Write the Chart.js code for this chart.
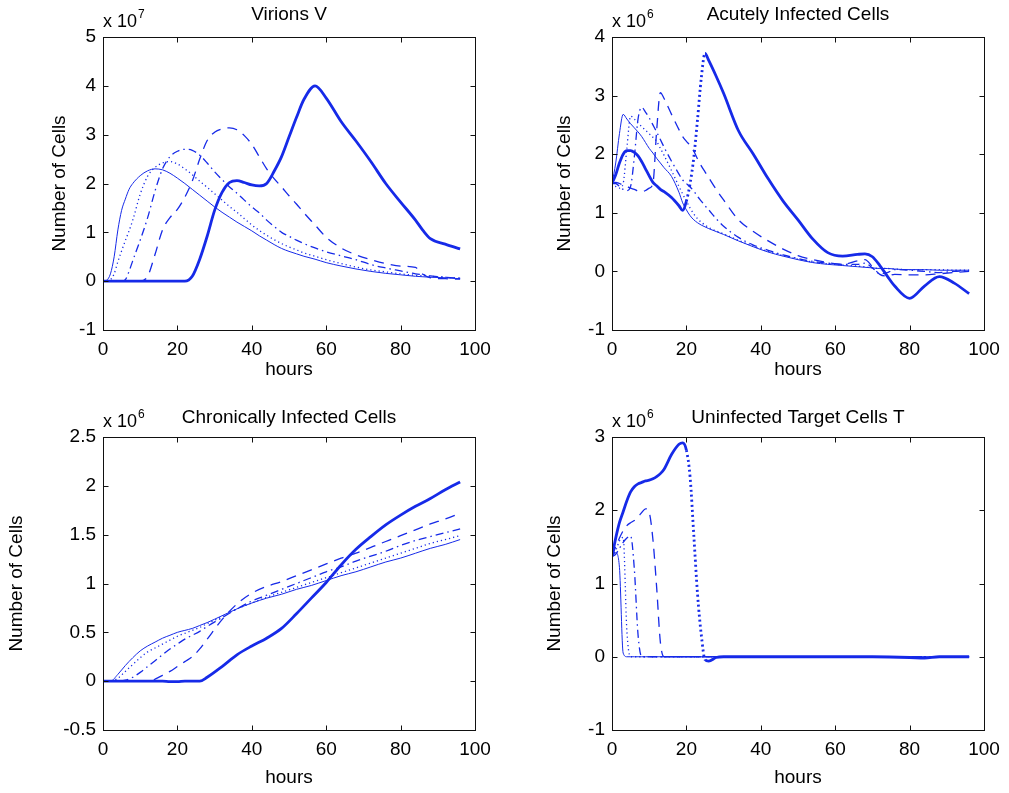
<!DOCTYPE html>
<html>
<head>
  <script src="https://cdn.jsdelivr.net/npm/chart.js@4.4.0/dist/chart.umd.min.js"></script>
  <style>
    body { margin: 0; background: #fff; }
    canvas { position: absolute; }
  </style>
</head>
<body>
  <canvas id="virions" width="500" height="396" style="left:0;top:0"></canvas>
  <canvas id="acute" width="509" height="396" style="left:500px;top:0"></canvas>
  <canvas id="chronic" width="500" height="397" style="left:0;top:396px"></canvas>
  <canvas id="target" width="509" height="397" style="left:500px;top:396px"></canvas>

  <script>
    // time grids (hours), one per panel
    const hours1 = [0,1,2,3,4,5,6,7,8,10,12,14,16,18,20,22,24,26,28,30,32,34,36,38,40,42,44,46,48,50,52,54,57,60,64,68,72,76,80,84,86,88,92,96];
    const hours2 = [0,1,2,3,4,5,6,7,8,9,10,11,12,13,14,16,18,19,20,21,22,23,24,25,26,28,30,34,38,42,46,50,54,58,62,66,68,70,72,74,76,80,84,88,92,96];
    const hours3 = [0,2,4,6,8,10,12,14,16,18,20,22,24,26,28,32,36,40,44,48,52,56,60,64,68,72,76,80,84,88,92,96];
    const hours4 = [0,1,2,3,4,5,6,7,8,9,10,11,12,13,14,16,18,19,20,21,22,23,24,25,26,28,30,40,50,60,70,80,84,88,92,96];

    // Virions V (x 10^7)
    const virThin   = [0,0.02,0.15,0.5,1.05,1.45,1.68,1.88,2.0,2.16,2.26,2.3,2.28,2.21,2.11,2.0,1.88,1.76,1.64,1.52,1.41,1.31,1.21,1.12,1.03,0.93,0.84,0.75,0.67,0.61,0.56,0.51,0.45,0.38,0.31,0.25,0.2,0.16,0.13,0.1,0.09,0.08,0.07,0.05];
    const virDot    = [0,0,0.03,0.15,0.4,0.62,0.83,1.03,1.25,1.78,2.15,2.33,2.42,2.45,2.4,2.3,2.18,2.05,1.92,1.79,1.66,1.53,1.41,1.28,1.15,1.04,0.94,0.85,0.77,0.7,0.64,0.58,0.51,0.44,0.36,0.29,0.23,0.19,0.15,0.12,0.11,0.1,0.08,0.06];
    const virDashDot= [0,0,0,0,0,0,0.03,0.2,0.42,0.84,1.3,1.85,2.3,2.55,2.66,2.7,2.68,2.58,2.42,2.24,2.08,1.93,1.8,1.66,1.52,1.4,1.25,1.12,1.0,0.92,0.84,0.77,0.68,0.6,0.52,0.44,0.34,0.27,0.21,0.15,0.13,0.11,0.08,0.06];
    const virDash   = [0,0,0,0,0,0,0,0,0,0,0.1,0.55,1.05,1.3,1.47,1.72,2.05,2.5,2.88,3.05,3.12,3.14,3.1,2.98,2.8,2.55,2.3,2.1,1.93,1.75,1.58,1.4,1.15,0.9,0.68,0.54,0.44,0.36,0.31,0.28,0.14,0.07,0.05,0.04];
    const virThick  = [0,0,0,0,0,0,0,0,0,0,0,0,0,0,0,0,0.1,0.45,0.92,1.45,1.82,2.02,2.06,2.02,1.97,1.95,2.0,2.25,2.55,2.95,3.35,3.72,4.0,3.75,3.27,2.87,2.45,2.0,1.62,1.25,1.04,0.87,0.76,0.66];

    // Acutely infected cells (x 10^6)
    const acuThin   = [1.5,1.85,2.35,2.68,2.6,2.52,2.45,2.38,2.3,2.2,2.1,2.02,1.93,1.85,1.77,1.62,1.35,1.17,1.05,0.95,0.88,0.83,0.79,0.76,0.73,0.68,0.63,0.52,0.42,0.33,0.26,0.2,0.15,0.12,0.1,0.08,0.07,0.06,0.05,0.05,0.04,0.03,0.03,0.02,0.02,0.02];
    const acuDot    = [1.5,1.45,1.42,1.5,2.1,2.65,2.6,2.53,2.47,2.41,2.35,2.29,2.22,2.1,1.98,1.72,1.45,1.32,1.2,1.08,0.98,0.9,0.84,0.79,0.75,0.69,0.64,0.53,0.43,0.34,0.27,0.21,0.16,0.13,0.11,0.09,0.08,0.06,0.05,0.05,0.04,0.03,0.03,0.03,0.02,0.02];
    const acuDashDot= [1.5,1.5,1.45,1.4,1.38,1.45,1.95,2.6,2.8,2.72,2.62,2.5,2.38,2.25,2.12,1.88,1.66,1.56,1.5,1.44,1.37,1.28,1.2,1.12,1.05,0.9,0.77,0.58,0.45,0.36,0.28,0.22,0.17,0.14,0.12,0.12,0.14,0.06,-0.04,-0.02,0.03,0.02,0,-0.02,0,0.01];
    const acuDash   = [1.5,1.52,1.5,1.47,1.45,1.42,1.4,1.37,1.36,1.38,1.42,1.5,2.4,3.05,2.95,2.68,2.42,2.3,2.22,2.15,2.05,1.92,1.8,1.7,1.6,1.4,1.22,0.88,0.68,0.52,0.38,0.27,0.2,0.15,0.12,0.18,0.2,0.08,-0.05,-0.08,-0.05,-0.06,-0.06,-0.04,-0.02,0];
    const acuThick  = [1.5,1.65,1.85,2.0,2.06,2.06,2.03,1.97,1.87,1.75,1.63,1.52,1.46,1.4,1.36,1.26,1.12,1.04,1.2,1.5,1.95,2.6,3.3,3.72,3.6,3.33,3.04,2.4,2.0,1.58,1.2,0.88,0.55,0.32,0.26,0.29,0.3,0.25,0.1,-0.08,-0.25,-0.46,-0.25,-0.09,-0.2,-0.38];

    // Chronically infected cells (x 10^6)
    const chrThin   = [0,0,0.07,0.16,0.24,0.31,0.36,0.4,0.44,0.47,0.5,0.52,0.54,0.57,0.6,0.67,0.74,0.8,0.85,0.89,0.94,0.98,1.03,1.08,1.12,1.17,1.22,1.26,1.31,1.36,1.4,1.45];
    const chrDot    = [0,0,0.03,0.1,0.17,0.24,0.3,0.34,0.38,0.42,0.46,0.49,0.52,0.55,0.59,0.66,0.74,0.8,0.86,0.91,0.96,1.01,1.06,1.11,1.16,1.21,1.26,1.31,1.36,1.41,1.45,1.49];
    const chrDashDot= [0,0,0,0.01,0.04,0.09,0.15,0.21,0.27,0.33,0.38,0.43,0.47,0.51,0.56,0.65,0.74,0.82,0.88,0.94,1.0,1.06,1.12,1.17,1.23,1.28,1.33,1.39,1.44,1.48,1.52,1.56];
    const chrDash   = [0,0,0,0,0,0,0,0.02,0.06,0.1,0.15,0.2,0.25,0.33,0.43,0.63,0.79,0.9,0.97,1.02,1.08,1.14,1.2,1.26,1.31,1.37,1.43,1.49,1.55,1.61,1.66,1.72];
    const chrThick  = [0,0,0,0,0,0,0,0,0,-0.005,-0.005,0,0,0,0.04,0.15,0.27,0.36,0.44,0.54,0.69,0.85,1.01,1.19,1.35,1.48,1.6,1.7,1.79,1.87,1.96,2.04];

    // Uninfected target cells T (x 10^6)
    const tgtThin   = [1.37,1.42,1.22,0.05,0,0,0,0,0,0,0,0,0,0,0,0,0,0,0,0,0,0,0,0,0,0,0,0,0,0,0,0,0,0,0,0];
    const tgtDot    = [1.37,1.45,1.58,1.63,0.35,0,0,0,0,0,0,0,0,0,0,0,0,0,0,0,0,0,0,0,0,0,0,0,0,0,0,0,0,0,0,0];
    const tgtDashDot= [1.37,1.4,1.48,1.56,1.62,1.65,1.2,0.3,0,0,0,0,0,0,0,0,0,0,0,0,0,0,0,0,0,0,0,0,0,0,0,0,0,0,0,0];
    const tgtDash   = [1.37,1.5,1.62,1.72,1.79,1.83,1.86,1.91,1.97,2.02,1.97,1.6,0.95,0.2,0,0,0,0,0,0,0,0,0,0,0,0,0,0,0,0,0,0,0,0,0,0];
    const tgtThick  = [1.37,1.62,1.83,1.98,2.13,2.25,2.32,2.36,2.38,2.4,2.41,2.43,2.46,2.5,2.56,2.76,2.9,2.92,2.82,2.45,1.65,0.85,0.3,-0.04,-0.06,-0.01,0,0,0,0,0,-0.01,-0.02,0,0,0];

    const BLUE = 'rgb(22,42,232)';
    const FONT = "'Liberation Sans', Arial, sans-serif";
    Chart.defaults.font.family = FONT;
    Chart.defaults.color = '#000';

    const lineStyles = [
      { borderWidth: 1, borderDash: [] },
      { borderWidth: 1.3, borderDash: [1.2, 3] },
      { borderWidth: 1.3, borderDash: [8, 4, 1.5, 4] },
      { borderWidth: 1.3, borderDash: [10, 7] },
      { borderWidth: 2.8, borderDash: [] }
    ];

    // matlab style box, inward ticks and the "x 10^n" factor
    const boxPlugin = {
      id: 'box',
      afterDraw(chart, args, o) {
        const { ctx, chartArea: a, scales: { x, y } } = chart;
        ctx.save();
        ctx.strokeStyle = '#111';
        ctx.lineWidth = 1;
        const L = Math.round(a.left) + 0.5, R = Math.round(a.right) + 0.5;
        const T = Math.round(a.top) + 0.5, B = Math.round(a.bottom) + 0.5;
        ctx.strokeRect(L, T, R - L, B - T);
        ctx.beginPath();
        x.ticks.forEach(t => {
          const px = Math.round(x.getPixelForValue(t.value)) + 0.5;
          ctx.moveTo(px, B); ctx.lineTo(px, B - 5);
          ctx.moveTo(px, T); ctx.lineTo(px, T + 5);
        });
        y.ticks.forEach(t => {
          const py = Math.round(y.getPixelForValue(t.value)) + 0.5;
          ctx.moveTo(L, py); ctx.lineTo(L + 5, py);
          ctx.moveTo(R, py); ctx.lineTo(R - 5, py);
        });
        ctx.stroke();
        ctx.fillStyle = '#000';
        ctx.textBaseline = 'alphabetic';
        ctx.font = '18px ' + FONT;
        ctx.fillText('x 10', a.left, a.top - 10);
        const w = ctx.measureText('x 10').width;
        ctx.font = '12px ' + FONT;
        ctx.fillText(o.exp, a.left + w + 1, a.top - 19);
        ctx.restore();
      }
    };

    function makePanel(id, title, hrs, series, p) {
      const datasets = series.map((vals, i) => {
        const ds = {
          data: hrs.map((h, k) => ({ x: h, y: vals[k] })),
          borderColor: BLUE,
          borderWidth: lineStyles[i].borderWidth,
          borderDash: lineStyles[i].borderDash,
          pointRadius: 0,
          fill: false,
          cubicInterpolationMode: 'monotone'
        };
        if (i === 4 && p.steep) {
          // very fast parts of the thick curve come out as sparse dots
          ds.segment = {
            borderDash: c => {
              const s = Math.abs((c.p1.parsed.y - c.p0.parsed.y) / (c.p1.parsed.x - c.p0.parsed.x));
              return s > p.steep ? [2, 3] : undefined;
            }
          };
        }
        return ds;
      });

      new Chart(document.getElementById(id), {
        type: 'line',
        data: { datasets: datasets },
        plugins: [boxPlugin],
        options: {
          responsive: false,
          animation: false,
          layout: { padding: { left: p.padL, right: 25, top: 0, bottom: p.padB } },
          plugins: {
            legend: { display: false },
            tooltip: { enabled: false },
            title: {
              display: true, text: title, fullSize: false,
              font: { size: 19, weight: 'normal' },
              padding: { top: p.titleTop, bottom: p.top - 22.8 - p.titleTop }
            },
            box: { exp: p.exp }
          },
          scales: {
            x: {
              type: 'linear', min: 0, max: 100,
              ticks: { stepSize: 20, padding: 8, font: { size: 19 }, maxRotation: 0 },
              grid: { display: false, drawTicks: false },
              border: { display: false },
              title: { display: true, text: 'hours', font: { size: 19 }, padding: 0 },
              afterFit: s => { s.height = p.xh; }
            },
            y: {
              min: p.ymin, max: p.ymax,
              ticks: {
                stepSize: p.ystep, padding: 7, font: { size: 19 },
                callback: v => String(Math.round(v * 10) / 10)
              },
              grid: { display: false, drawTicks: false },
              border: { display: false },
              title: { display: true, text: 'Number of Cells', font: { size: 19 }, padding: 0 },
              afterFit: s => { s.width = p.yw; }
            }
          }
        }
      });
    }

    makePanel('virions', 'Virions V', hours1, [virThin, virDot, virDashDot, virDash, virThick],
      { exp: '7', ymin: -1, ymax: 5, ystep: 1, padL: 48.6, yw: 54.4, top: 37, titleTop: 3, xh: 51.4, padB: 14.6 });
    makePanel('acute', 'Acutely Infected Cells', hours2, [acuThin, acuDot, acuDashDot, acuDash, acuThick],
      { exp: '6', ymin: -1, ymax: 4, ystep: 1, padL: 53.6, yw: 58.4, top: 37, titleTop: 3, xh: 51.4, padB: 14.6, steep: 0.28 });
    makePanel('chronic', 'Chronically Infected Cells', hours3, [chrThin, chrDot, chrDashDot, chrDash, chrThick],
      { exp: '6', ymin: -0.5, ymax: 2.5, ystep: 0.5, padL: 5.6, yw: 97.4, top: 41, titleTop: 10.6, xh: 59.4, padB: 3.6 });
    makePanel('target', 'Uninfected Target Cells T', hours4, [tgtThin, tgtDot, tgtDashDot, tgtDash, tgtThick],
      { exp: '6', ymin: -1, ymax: 3, ystep: 1, padL: 43.6, yw: 68.4, top: 41, titleTop: 10.6, xh: 59.4, padB: 3.6, steep: 0.28 });
  </script>
</body>
</html>
